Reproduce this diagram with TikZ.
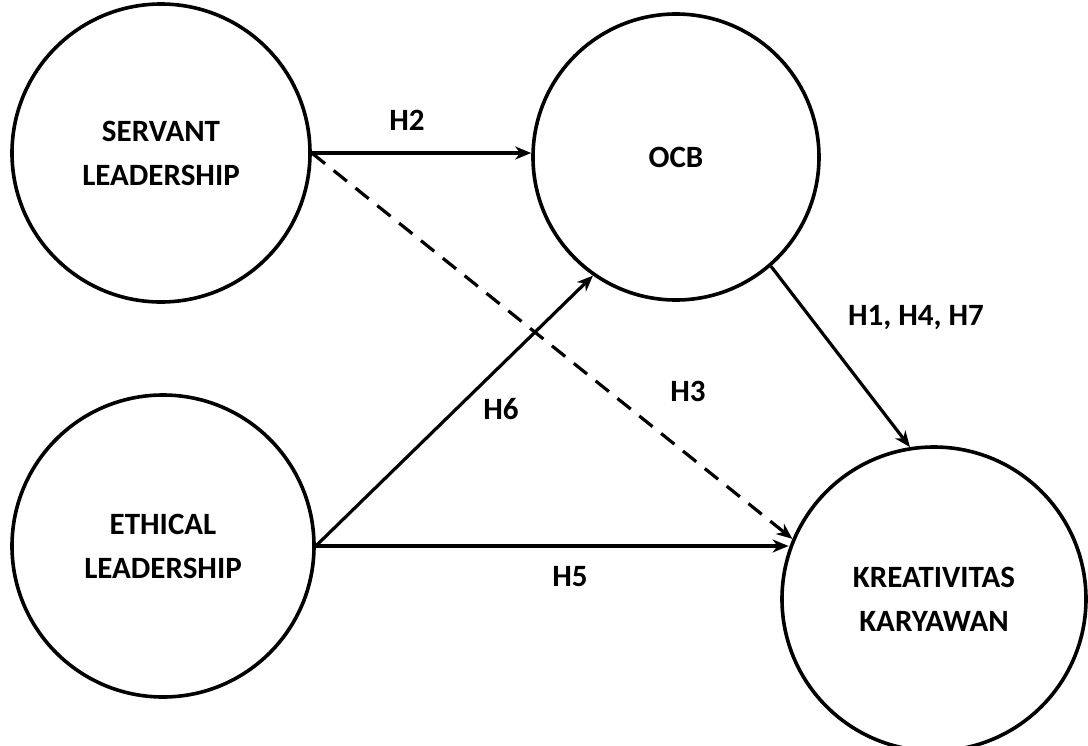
\documentclass[tikz,border=0pt]{standalone}
\usepackage{fontspec}
\setmainfont{Carlito}
\usetikzlibrary{arrows.meta}
\begin{document}
\begin{tikzpicture}[x=1pt,y=-1pt,
  latent/.style={circle,draw,line width=3.6pt,align=center,inner sep=0pt,
    font=\fontsize{31}{44}\selectfont\bfseries},
  lbl/.style={font=\fontsize{31}{44}\selectfont\bfseries,inner sep=0pt},
  path/.style={line width=3.2pt,-{Stealth[length=16pt,width=13pt,inset=5pt]}},
  dpath/.style={path,dash pattern=on 17pt off 11pt}]
\useasboundingbox (0,0) rectangle (1088,745);
\clip (0,0) rectangle (1088,745);
\node[latent,minimum size=298pt] (SL) at (161,153) {SERVANT\\LEADERSHIP};
\node[latent,minimum size=286pt] (OCB) at (676,157) {OCB};
\node[latent,minimum size=302pt] (EL) at (163,546) {ETHICAL\\LEADERSHIP};
\node[latent,minimum size=304pt] (KK) at (934,599) {KREATIVITAS\\KARYAWAN};
\draw[path] (SL.east) -- (SL.east -| OCB.west);
\draw[dpath] (SL.east) -- (KK.157);
\draw[path] (EL.east) -- (OCB.235);
\draw[path] (EL.east) -- (EL.east -| KK.161);
\draw[path] (OCB.311) -- (KK.99);
\node[lbl] (h2) at (407,120) {H2};
\node[lbl] (h6) at (501,409) {H6};
\node[lbl] (h3) at (688,391) {H3};
\node[lbl] (h5) at (570,577) {H5};
\node[lbl] (h147) at (916,318) {H1, H4, H7};
\end{tikzpicture}
\end{document}
